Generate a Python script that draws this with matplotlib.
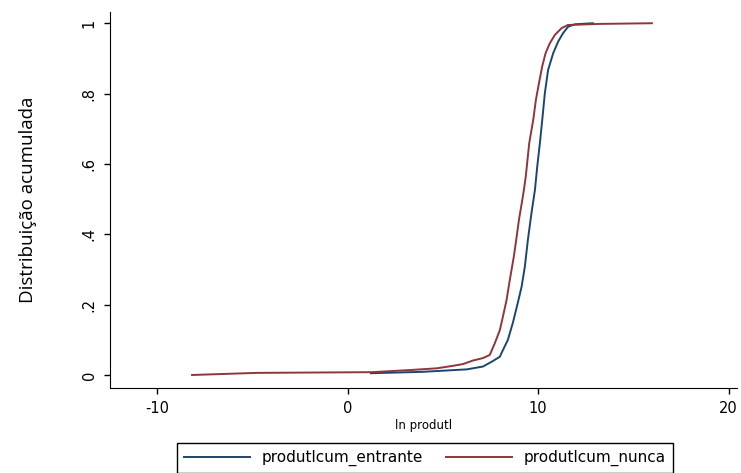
import matplotlib.pyplot as plt

x_entrante = [1.22, 3.94, 6.26, 7.10, 7.57, 7.99, 8.08, 8.41, 8.67, 8.93, 9.13, 9.30,
              9.46, 9.65, 9.83, 9.95, 10.09, 10.23, 10.35, 10.52, 10.79, 11.05,
              11.31, 11.57, 11.93, 12.87]
y_entrante = [0.005, 0.009, 0.016, 0.024, 0.038, 0.052, 0.063, 0.100, 0.148, 0.205,
              0.251, 0.308, 0.384, 0.461, 0.526, 0.592, 0.659, 0.734, 0.801, 0.867,
              0.915, 0.948, 0.972, 0.990, 0.997, 1.0]

x_nunca = [-8.17, -4.77, 1.27, 3.27, 4.68, 5.52, 6.05, 6.57, 7.10, 7.46, 7.57, 7.73,
           7.99, 8.15, 8.34, 8.51, 8.72, 8.87, 8.99, 9.14, 9.25, 9.35, 9.53, 9.74,
           9.88, 10.04, 10.21, 10.39, 10.61, 10.88, 11.23, 11.56, 13.2, 15.97]
y_nunca = [0.0, 0.006, 0.008, 0.014, 0.019, 0.026, 0.031, 0.041, 0.048, 0.057, 0.071,
           0.091, 0.128, 0.166, 0.213, 0.270, 0.336, 0.393, 0.441, 0.489, 0.526,
           0.565, 0.659, 0.725, 0.782, 0.829, 0.877, 0.915, 0.943, 0.967, 0.986,
           0.995, 0.998, 1.0]

xticks = [-10, 0, 10, 20]
yticks = [0, 0.2, 0.4, 0.6, 0.8, 1]
ytick_labels = ["0", ".2", ".4", ".6", ".8", "1"]

fig = plt.figure(figsize=(7.41, 4.73), dpi=100)
ax = fig.add_axes([0.1484, 0.1797, 0.846, 0.795])

ax.plot(x_entrante, y_entrante, color="#1a476f", lw=1.4, label="produtlcum_entrante")
ax.plot(x_nunca, y_nunca, color="#90353b", lw=1.4, label="produtlcum_nunca")

ax.set_xlim(-12.48, 20.43)
ax.set_ylim(-0.037, 1.032)
ax.spines["top"].set_visible(False)
ax.spines["right"].set_visible(False)
ax.set_xticks(xticks)
ax.set_xticklabels([str(t) for t in xticks], fontsize=10.5)
ax.set_yticks(yticks)
ax.set_yticklabels(ytick_labels, fontsize=10.5, rotation=90, va="center")
ax.tick_params(length=4.5, width=1, pad=5)

ax.set_xlabel("ln produtl", fontsize=8.5, labelpad=2)
ax.set_ylabel("Distribuição acumulada", fontsize=13.5, family="Open Sans", labelpad=32)

fig.legend(loc="upper center", bbox_to_anchor=(0.5735, 0.0634), ncol=2,
           fancybox=False, edgecolor="black", fontsize=11, handlelength=4.3,
           columnspacing=1.5, borderpad=0.45, borderaxespad=0, framealpha=1)

fig.savefig("out.png")
